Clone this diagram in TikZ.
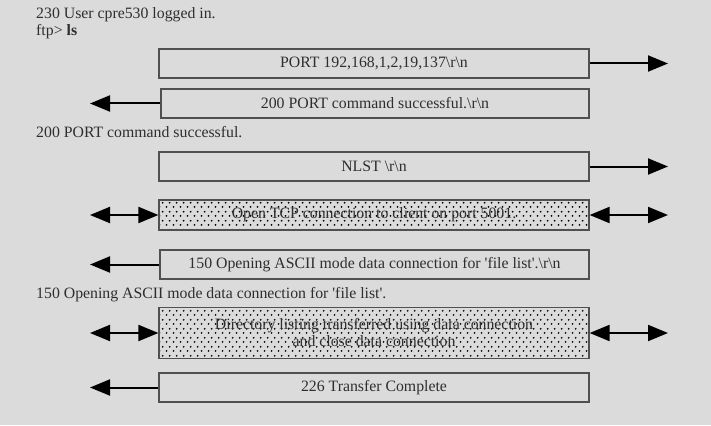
\documentclass[tikz,border=0pt]{standalone}
\usepackage{fontspec}
\setmainfont{Liberation Serif}
\usetikzlibrary{arrows.meta,patterns.meta}
\definecolor{bggray}{HTML}{DBDBDB}
\definecolor{txtgray}{HTML}{2E2E2E}
\definecolor{boxgray}{HTML}{505050}
\newcommand{\crlf}{\textbackslash r\textbackslash n}
\tikzdeclarepattern{
  name=stagdots, type=uncolored,
  bounding box={(0,0) and (6.6pt,9pt)},
  tile size={(6.6pt,9pt)},
  code={
    \fill (1.65pt,2.25pt) circle (1.05pt);
    \fill (4.95pt,6.75pt) circle (1.05pt);
  }
}

\begin{document}
\begin{tikzpicture}[x=1pt, y=-1pt, font=\fontsize{15.8}{17}\selectfont]
        % Define block styles
        \tikzstyle{msg} = [rectangle, draw=boxgray, line width=1.2pt, text=txtgray, minimum width=430pt, minimum height=29pt, inner sep=0pt, align=center]
        \tikzstyle{data} = [msg, pattern=stagdots, pattern color=black]
        \tikzstyle{say} = [anchor=base west, inner sep=0pt, text=txtgray]
        \tikzstyle{line} = [draw, line width=2pt, -{Triangle[length=20pt, width=16pt]}]
        \tikzstyle{both} = [draw, line width=2pt, {Triangle[length=20pt, width=16pt]}-{Triangle[length=20pt, width=16pt]}]

        % Background
        \fill [bggray] (0,0) rectangle (711,425);
        \useasboundingbox (0,0) rectangle (711,425);

        % Console text
        \node [say] (login) at (36,19) {230 User cpre530 logged in.};
        \node [say] (ls) at (36,36) {ftp> \textbf{ls}};
        \node [say] (portok) at (36,137) {200 PORT command successful.};
        \node [say] (opening) at (36,298) {150 Opening ASCII mode data connection for \textquotesingle file list\textquotesingle.};

        % Nodes
        \node [msg] (port) at (374,63.5) {PORT 192,168,1,2,19,137\crlf};
        \node [msg, minimum width=428pt] (portreply) at (375,103.5) {200 PORT command successful.\crlf};
        \node [msg] (nlst) at (374,166.5) {NLST \crlf};
        \node [data, minimum height=30pt] (tcp) at (374,215) {Open TCP connection to client on port 5001.};
        \node [msg, minimum width=429pt] (openreply) at (374.5,264.5) {150 Opening ASCII mode data connection for \textquotesingle file list\textquotesingle.\crlf};
        \node [data, minimum height=51pt] (listing) at (374,333) {Directory listing transferred using data connection\\and close data connection};
        \node [msg] (done) at (374,387.5) {226 Transfer Complete};

        % Free ends
        \coordinate (portR) at (668,63.5);
        \coordinate (portreplyL) at (90,103.5);
        \coordinate (nlstR) at (668,166.5);
        \coordinate (tcpL) at (90,215);
        \coordinate (tcpR) at (668,215);
        \coordinate (openreplyL) at (90,264.5);
        \coordinate (listingL) at (90,333);
        \coordinate (listingR) at (668,333);
        \coordinate (doneL) at (90,387.5);

        % Arrows
        \path [line] (port) -- (portR);
        \path [line] (portreply) -- (portreplyL);
        \path [line] (nlst) -- (nlstR);
        \path [both] (tcpL) -- (tcp);
        \path [both] (tcp) -- (tcpR);
        \path [line] (openreply) -- (openreplyL);
        \path [both] (listingL) -- (listing);
        \path [both] (listing) -- (listingR);
        \path [line] (done) -- (doneL);

    \end{tikzpicture}
\end{document}
